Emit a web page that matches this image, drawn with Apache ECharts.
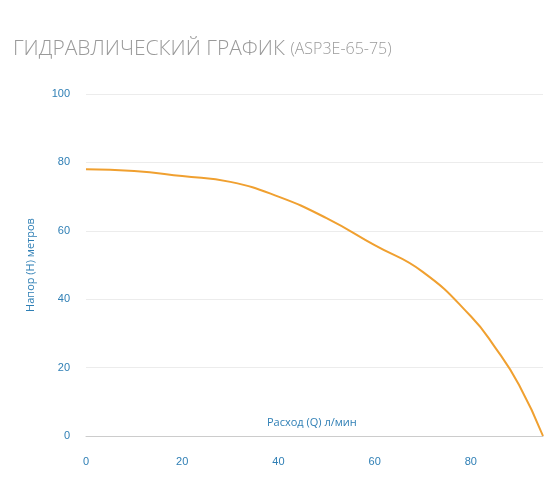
<!DOCTYPE html>
<html>
<head>
<meta charset="utf-8">
<script src="https://cdn.jsdelivr.net/npm/echarts@6/dist/echarts.min.js"></script>
<style>
  html, body { margin: 0; padding: 0; background: #fff; }
  #chart { width: 560px; height: 504px; }
</style>
</head>
<body>
<div id="chart"></div>
<script>
// данные кривой
const flow = [0, 10, 20, 30, 40, 50, 60, 70, 80, 85, 90, 95];
const head = [78, 77.5, 76, 74.3, 70, 63.7, 55.8, 48, 35, 26, 15, 0];

const chart = echarts.init(document.getElementById('chart'));
const blue = '#2f7fb5';

chart.setOption({
    animation: false,
    title: {
        text: 'ГИДРАВЛИЧЕСКИЙ ГРАФИК {s|(ASP3E-65-75)}',
        left: 8,
        top: 34,
        textStyle: {
            color: '#9a9a9a',
            fontSize: 21,
            fontWeight: 300,
            fontFamily: 'Open Sans',
            rich: { s: { fontSize: 16, color: '#9a9a9a', fontWeight: 300, fontFamily: 'Open Sans' } }
        }
    },
    graphic: [{
        type: 'text',
        left: 267,
        top: 417,
        style: { text: 'Расход (Q) л/мин', fill: blue, font: '11px "Open Sans"' }
    }],
    grid: { left: 86, right: 17, top: 94, bottom: 68 },
    xAxis: {
        type: 'value',
        min: 0,
        max: 95,
        interval: 20,
        axisLine: { show: true, lineStyle: { color: '#cccccc' } },
        axisTick: { show: false },
        splitLine: { show: false },
        axisLabel: { color: blue, fontSize: 11, margin: 20, showMaxLabel: false }
    },
    yAxis: {
        type: 'value',
        min: 0,
        max: 100,
        interval: 20,
        name: 'Напор (H) метров',
        nameLocation: 'middle',
        nameGap: 50,
        nameTextStyle: { color: blue, fontSize: 11, fontFamily: 'Open Sans' },
        axisLine: { show: false },
        axisTick: { show: false },
        splitLine: { lineStyle: { color: '#ececec' } },
        axisLabel: { color: blue, fontSize: 11, margin: 16 }
    },
    series: [{
        type: 'line',
        data: flow.map((q, i) => [q, head[i]]),
        smooth: true,
        showSymbol: false,
        lineStyle: { color: '#f0a030', width: 2 }
    }]
});
</script>
</body>
</html>
